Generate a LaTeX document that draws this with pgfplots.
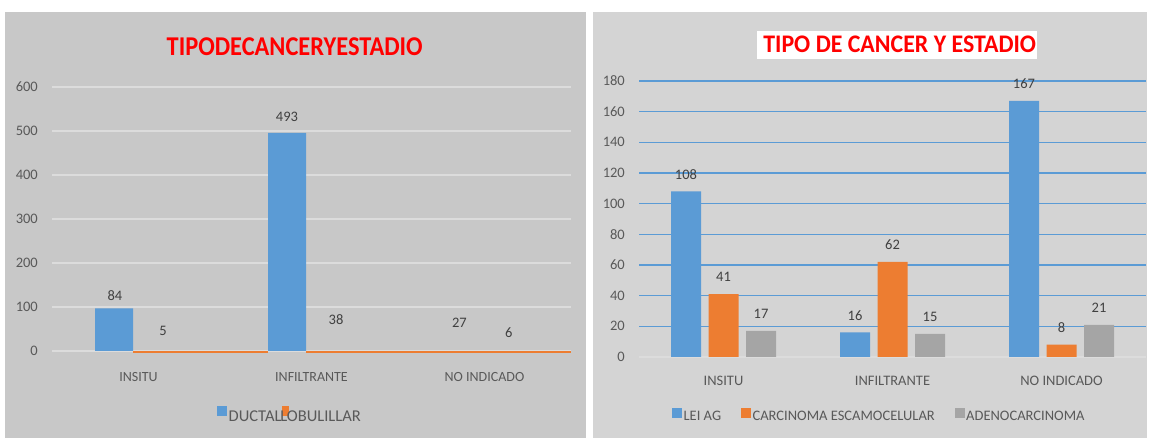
\documentclass[border=0pt]{standalone}
\usepackage{fontspec}
\setmainfont{Carlito}
\usepackage{pgfplots}
\pgfplotsset{compat=1.18}
\usepackage{graphicx}
\definecolor{bgL}{HTML}{C8C8C8}
\definecolor{bgR}{HTML}{D4D4D4}
\definecolor{gridL}{HTML}{DCDCDC}
\definecolor{zeroR}{HTML}{DCDCDC}
\definecolor{blueC}{HTML}{5B9BD5}
\definecolor{orangeC}{HTML}{ED7D31}
\definecolor{grayC}{HTML}{A5A5A5}
\definecolor{tickC}{HTML}{595959}
\definecolor{labC}{HTML}{404040}
\definecolor{titleC}{HTML}{FF0000}
\newcommand\fs[1]{\fontsize{#1}{#1}\selectfont}
\begin{document}
\begin{tikzpicture}
\path[use as bounding box] (0pt,0pt) rectangle (1150pt,438pt);
\fill[white] (0pt,0pt) rectangle (1150pt,438pt);
\fill[bgL] (5pt,0pt) rectangle (586pt,426.3pt);
\fill[bgR] (593pt,0pt) rectangle (1147pt,426.3pt);
\node[anchor=base, inner sep=0pt, text=titleC] at (294.7pt,382.3pt) {\resizebox{256pt}{17.8pt}{\bfseries TIPODECANCERYESTADIO}};
\fill[white] (757pt,378.7pt) rectangle (1037pt,407pt);
\node[anchor=base, inner sep=0pt, text=titleC] at (899.7pt,385.7pt) {\resizebox{272.7pt}{16.6pt}{\bfseries TIPO DE CANCER Y ESTADIO}};

% ---------------- left chart ----------------
\begin{axis}[
 at={(52pt,87pt)}, anchor=south west, scale only axis, width=519pt, height=264pt,
 xmin=-0.5, xmax=2.5, ymin=0, ymax=600, clip=false,
 axis line style={draw=none}, major tick length=0pt, tick style={draw=none},
 ytick={0,100,...,600}, xtick={0,1,2}, xticklabels={INSITU,INFILTRANTE,NO INDICADO},
 ymajorgrids, grid style={gridL, line width=1.5pt},
 /pgf/number format/assume math mode=true,
 yticklabel style={font=\fs{14.5}, text=tickC, anchor=east, inner sep=0pt, xshift=-14pt},
 xticklabel style={font=\fs{14}, text=tickC, anchor=base, inner sep=0pt, yshift=-30.7pt},
 legend style={at={(0.318,-0.243)}, anchor=west, draw=none, fill=none, inner sep=0pt,
   font=\fs{16.5}, text=tickC, nodes={inner sep=2pt},
   /tikz/every even column/.append style={column sep=-1.6pt}},
 legend columns=-1,
]
\addlegendimage{legend image code/.code={\fill[blueC] (0pt,1.5pt) rectangle (9pt,10.5pt);}}
\addlegendentry{DUCTAL}
\addlegendimage{legend image code/.code={\fill[orangeC] (0pt,1.5pt) rectangle (6pt,10.5pt);}}
\addlegendentry{\hspace*{-10pt}LOBULILLAR}
\addplot[ybar, bar width=38pt, bar shift=-24.5pt, fill=blueC, draw=none, forget plot]
  coordinates {(0,97) (1,496)};
\addplot[orangeC, line width=2.6pt, forget plot] coordinates {(-0.032,-2.6) (0.749,-2.6)};
\addplot[orangeC, line width=2.6pt, forget plot] coordinates {(0.968,-2.6) (2.5,-2.6)};
\addplot[draw=none, forget plot, nodes near coords, point meta=explicit symbolic,
  nodes near coords style={anchor=center, inner sep=0pt, font=\fs{14.5}, text=labC}]
  table[meta=l, row sep=\\] {
x y l\\
-0.136 126.8 84\\
0.142 45.3 5\\
0.858 532 493\\
1.142 72.4 38\\
1.855 63.4 27\\
2.140 40.8 6\\
};
\end{axis}

% ---------------- right chart ----------------
\begin{axis}[
 at={(639pt,81pt)}, anchor=south west, scale only axis, width=507pt, height=276pt,
 xmin=-0.5, xmax=2.5, ymin=0, ymax=180, clip=false,
 axis line style={draw=none}, major tick length=0pt, tick style={draw=none},
 ytick={20,40,...,180}, extra y ticks={0},
 extra y tick style={grid style={zeroR, line width=1.5pt}},
 xtick={0,1,2}, xticklabels={INSITU,INFILTRANTE,NO INDICADO},
 ymajorgrids, grid style={blueC, line width=1.2pt},
 /pgf/number format/assume math mode=true,
 yticklabel style={font=\fs{14.5}, text=tickC, anchor=east, inner sep=0pt, xshift=-14pt},
 xticklabel style={font=\fs{14.5}, text=tickC, anchor=base, inner sep=0pt, yshift=-28.7pt},
 legend style={at={(0.0651,-0.2138)}, anchor=west, draw=none, fill=none, inner sep=0pt,
   font=\fs{14.5}, text=tickC, nodes={inner sep=2pt},
   /tikz/every even column/.append style={column sep=18pt}},
 legend columns=-1,
 nodes near coords style={anchor=center, inner sep=0pt, yshift=17pt, font=\fs{14.5}, text=labC},
]
\addlegendimage{legend image code/.code={\fill[blueC] (0pt,0pt) rectangle (9pt,9pt);}}
\addlegendentry{LEI AG}
\addlegendimage{legend image code/.code={\fill[orangeC] (0pt,0pt) rectangle (9pt,9pt);}}
\addlegendentry{CARCINOMA ESCAMOCELULAR}
\addlegendimage{legend image code/.code={\fill[grayC] (0pt,0pt) rectangle (9pt,9pt);}}
\addlegendentry{ADENOCARCINOMA}
\addplot[ybar, bar width=30pt, bar shift=-37.5pt, fill=blueC, draw=none, forget plot,
  nodes near coords, nodes near coords style={xshift=-37.5pt}]
  coordinates {(0,108) (1,16) (2,167)};
\addplot[ybar, bar width=30pt, bar shift=0pt, fill=orangeC, draw=none, forget plot,
  nodes near coords]
  coordinates {(0,41) (1,62) (2,8)};
\addplot[ybar, bar width=30pt, bar shift=37.5pt, fill=grayC, draw=none, forget plot,
  nodes near coords, nodes near coords style={xshift=37.5pt}]
  coordinates {(0,17) (1,15) (2,21)};
\end{axis}
\end{tikzpicture}
\end{document}
